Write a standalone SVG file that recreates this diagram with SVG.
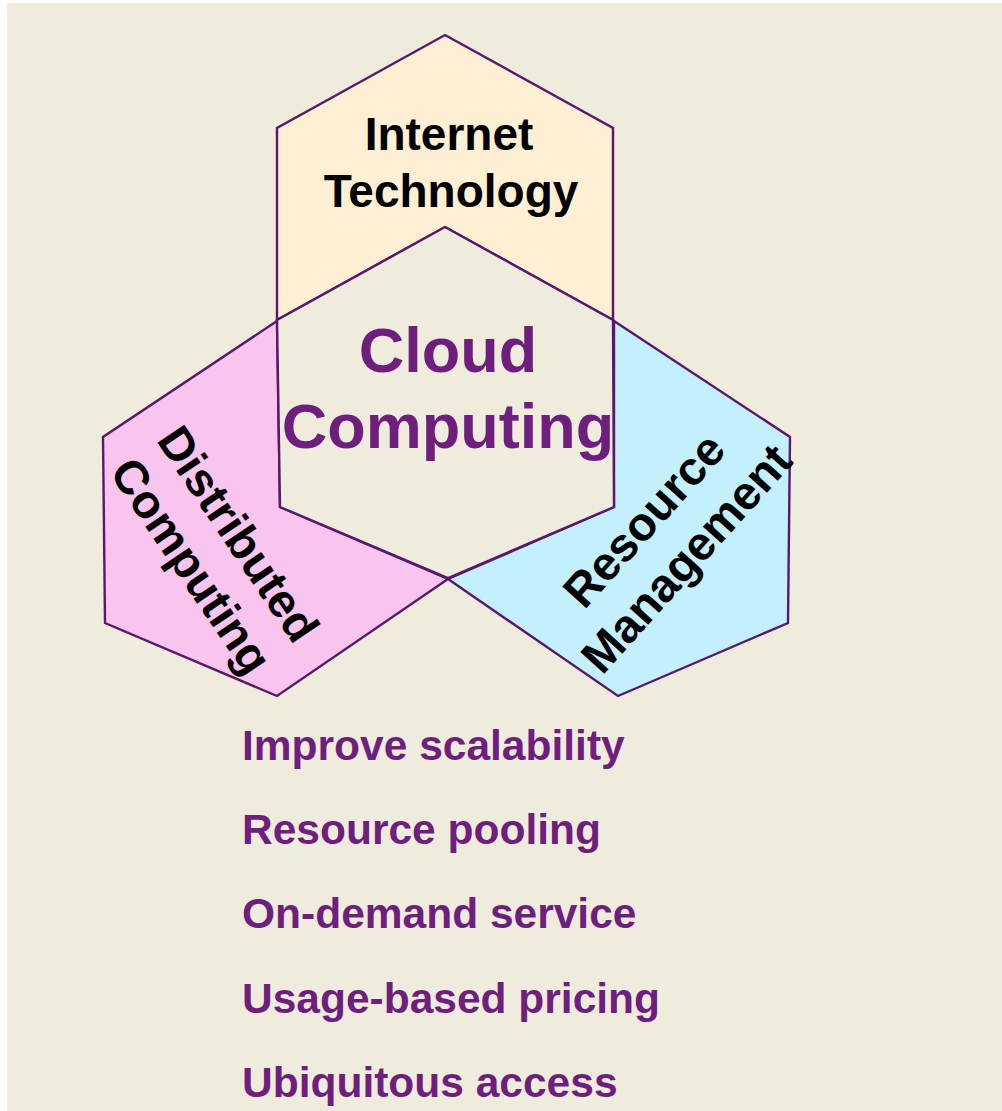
<svg xmlns="http://www.w3.org/2000/svg" width="1002" height="1111" viewBox="0 0 1002 1111">
<style>
.hex{stroke:#58186C;stroke-width:2.4;stroke-linejoin:miter}
.lbl{font-family:"Liberation Sans",Arial,sans-serif;font-weight:bold;font-size:46px;fill:#000;text-anchor:middle}
.rot{font-size:47px}
.core{font-family:"Liberation Sans",Arial,sans-serif;font-weight:bold;font-size:63px;fill:#6E1F7E;text-anchor:middle}
.item{font-family:"Liberation Sans",Arial,sans-serif;font-weight:bold;font-size:42.5px;fill:#6E1F7E}
</style>
<rect x="0" y="0" width="1002" height="1111" fill="#FFFFFF"/>
<rect x="7" y="3" width="995" height="1108" fill="#EFECDE"/>
<g id="internet-technology">
<polygon class="hex" fill="#FFF0D3" points="445,35 613,128 613,320 445,227 277,320 277,128"/>
<text class="lbl" x="449" y="150">Internet</text>
<text class="lbl" x="451" y="207">Technology</text>
</g>
<g id="distributed-computing">
<polygon class="hex" fill="#F9C4EE" points="277,321 103,437 105,623 277,696 448,579 280,507"/>
<g transform="translate(225,543) rotate(56)">
<text class="lbl rot" x="0" y="0">Distributed</text>
<text class="lbl rot" x="0" y="57">Computing</text>
</g>
</g>
<g id="resource-management">
<polygon class="hex" fill="#C4F0FE" points="614,321 790,437 788,623 618,696 448,579 614,507"/>
<g transform="translate(656,531) rotate(-48)">
<text class="lbl rot" x="0" y="0">Resource</text>
<text class="lbl rot" x="0" y="57">Management</text>
</g>
</g>
<g id="cloud-computing">
<polygon class="hex" fill="#EFECDE" points="445,227 613,320 614,507 448,578 280,507 277,320"/>
<text class="core" x="448" y="372">Cloud</text>
<text class="core" x="448" y="448">Computing</text>
</g>
<g id="benefits">
<text class="item" x="242" y="760">Improve scalability</text>
<text class="item" x="242" y="844">Resource pooling</text>
<text class="item" x="242" y="928">On-demand service</text>
<text class="item" x="242" y="1013">Usage-based pricing</text>
<text class="item" x="242" y="1097">Ubiquitous access</text>
</g>
<g id="connectors"></g>
</svg>
